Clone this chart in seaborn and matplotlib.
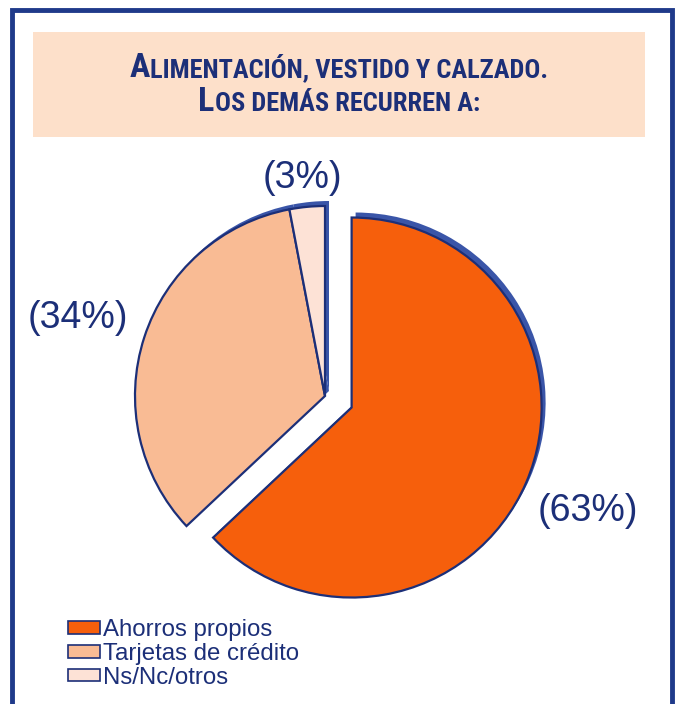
import matplotlib
matplotlib.use("Agg")
import matplotlib.pyplot as plt
import seaborn as sns
from matplotlib import font_manager
from matplotlib.patches import Rectangle

# Data
labels = ["Ahorros propios", "Tarjetas de crédito", "Ns/Nc/otros"]
shares = [63, 34, 3]
pct_text = ["(63%)", "(34%)", "(3%)"]
title_lines = [
    [("A", "big"), ("LIMENTACIÓN, VESTIDO Y CALZADO.", "small")],
    [("L", "big"), ("OS DEMÁS RECURREN A:", "small")],
]

# Style
W, H = 682, 704
NAVY = "#1c2f78"
FRAME = "#1f3a8a"
RIM = "#3a55a8"
PEACH = "#fde0ca"
slice_colors = ["#f65f0c", "#f9bb94", "#fde2d6"]

sns.set_theme(style="white")
avail = {f.name for f in font_manager.fontManager.ttflist}
TITLE_FONT = "DejaVu Sans"
for cand in ["Liberation Sans Narrow", "Roboto Condensed", "Open Sans Condensed", "Roboto"]:
    if cand in avail:
        TITLE_FONT = cand
        break
BODY_FONT = "Liberation Sans" if "Liberation Sans" in avail else "DejaVu Sans"
plt.rcParams["font.family"] = [BODY_FONT, "DejaVu Sans"]

fig = plt.figure(figsize=(W / 100, H / 100), dpi=100)
fig.patch.set_facecolor("white")

# outer frame and title box (pixel coords, y measured from top)
def px_rect(x0, y0, x1, y1, **kw):
    return Rectangle((x0 / W, 1 - y1 / H), (x1 - x0) / W, (y1 - y0) / H,
                     transform=fig.transFigure, **kw)

fig.add_artist(px_rect(12, 10, 672, 720, fill=False, edgecolor=FRAME, linewidth=3.5))
fig.add_artist(px_rect(33, 32, 645, 137, facecolor=PEACH, edgecolor="none"))

# small-caps title
sizes = {"big": 24.5, "small": 19}
renderer = fig.canvas.get_renderer()
for line, y_base in zip(title_lines, [77, 111]):
    texts = []
    for s, kind in line:
        t = fig.text(0, 1 - y_base / H, s, fontsize=sizes[kind], fontweight="bold",
                     color=NAVY, family=TITLE_FONT, ha="left", va="baseline")
        texts.append(t)
    widths = [t.get_window_extent(renderer).width for t in texts]
    x = 339 - sum(widths) / 2
    for t, w in zip(texts, widths):
        t.set_x(x / W)
        x += w

# pie
ax = fig.add_axes([0, 0, 1, 1])
cx, cy, r = 325, H - 396, 190
explode = [29, 0, 0]

# blue "3D" rim behind the wedges
ax.pie(shares, explode=explode, startangle=90, counterclock=False,
       colors=[RIM] * len(shares), radius=r, center=(cx + 4, cy + 5),
       wedgeprops=dict(linewidth=0))
ax.pie(shares, explode=explode, startangle=90, counterclock=False,
       colors=slice_colors, radius=r, center=(cx, cy),
       wedgeprops=dict(edgecolor=NAVY, linewidth=1.6))

label_pos = [(588, 511), (78, 318), (302, 178)]
for txt, (lx, ly) in zip(pct_text, label_pos):
    ax.text(lx, H - ly, txt, fontsize=27, color=NAVY, ha="center", va="center")

ax.set_xlim(0, W)
ax.set_ylim(0, H)
ax.set_aspect("auto")
ax.axis("off")

# legend
handles = [Rectangle((0, 0), 1, 1, facecolor=c, edgecolor=NAVY, linewidth=1.2)
           for c in slice_colors]
leg = fig.legend(handles, labels, loc="upper left",
                 bbox_to_anchor=(68 / W, 1 - 619 / H), frameon=False,
                 fontsize=17.3, handlelength=1.35, handleheight=0.42,
                 handletextpad=0.12, labelspacing=0.08, borderpad=0,
                 borderaxespad=0)
for t in leg.get_texts():
    t.set_color(NAVY)

fig.savefig("out.png", dpi=100)
